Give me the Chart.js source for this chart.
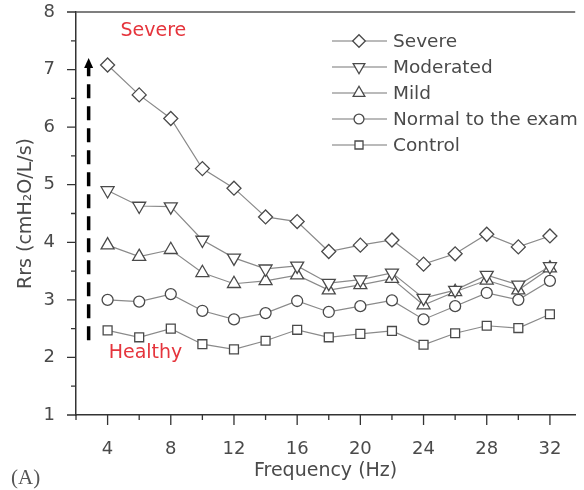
<!DOCTYPE html>
<html>
<head>
<meta charset="utf-8">
<script src="https://cdn.jsdelivr.net/npm/chart.js@4.4.1/dist/chart.umd.min.js"></script>
<style>
  html, body { margin: 0; padding: 0; background: #fff; overflow: hidden; }
  canvas { display: block; }
</style>
</head>
<body>
<canvas id="rrs-chart" width="584" height="490"></canvas>
<script>
// frequencies (Hz)
const frecuencias = [4, 6, 8, 10, 12, 14, 16, 18, 20, 22, 24, 26, 28, 30, 32];

// Rrs values (cmH2O/L/s)
const severe     = [7.08, 6.56, 6.15, 5.28, 4.94, 4.44, 4.36, 3.84, 3.95, 4.04, 3.62, 3.80, 4.14, 3.92, 4.11];
const moderated  = [4.90, 4.63, 4.62, 4.04, 3.73, 3.54, 3.59, 3.29, 3.35, 3.47, 3.03, 3.17, 3.43, 3.26, 3.58];
const mild       = [3.95, 3.75, 3.87, 3.47, 3.28, 3.33, 3.43, 3.17, 3.26, 3.37, 2.91, 3.14, 3.34, 3.17, 3.55];
const normal     = [3.00, 2.97, 3.10, 2.81, 2.66, 2.77, 2.98, 2.79, 2.89, 2.99, 2.66, 2.89, 3.12, 3.00, 3.33];
const control    = [2.47, 2.35, 2.50, 2.23, 2.14, 2.29, 2.48, 2.35, 2.41, 2.46, 2.22, 2.42, 2.55, 2.51, 2.75];

const etiquetas = ['Severe', 'Moderated', 'Mild', 'Normal to the exam', 'Control'];
const xTicks = [4, 8, 12, 16, 20, 24, 28, 32];
const yTicks = [1, 2, 3, 4, 5, 6, 7, 8];

const FONT = 'DejaVu Sans';
const TXT = '#4a4a4a';

function serie(label, values, style, radius, rotation) {
  return {
    label,
    data: frecuencias.map((f, i) => ({ x: f, y: values[i] })),
    borderColor: '#8a8a8a',
    borderWidth: 1.2,
    pointStyle: style,
    pointRadius: radius,
    pointRotation: rotation || 0,
    pointBorderColor: '#4a4a4a',
    pointBackgroundColor: '#fff',
    pointBorderWidth: 1.3,
    tension: 0
  };
}

const datasets = [
  serie(etiquetas[0], severe, 'rectRot', 7),
  serie(etiquetas[1], moderated, 'triangle', 7.5, 180),
  serie(etiquetas[2], mild, 'triangle', 7.5),
  serie(etiquetas[3], normal, 'circle', 5.5),
  serie(etiquetas[4], control, 'rect', 6.3)
];

// extra drawing: ticks, frame, legend, annotations
const extras = {
  id: 'extras',
  afterDraw(chart) {
    const ctx = chart.ctx;
    const xs = chart.scales.x, ys = chart.scales.y;
    const area = chart.chartArea;
    ctx.save();

    // top frame line
    ctx.strokeStyle = '#555';
    ctx.lineWidth = 1.5;
    ctx.beginPath();
    ctx.moveTo(area.left, area.top);
    ctx.lineTo(area.right, area.top);
    ctx.stroke();

    // tick marks
    ctx.strokeStyle = '#333';
    ctx.lineWidth = 1.3;
    ctx.beginPath();
    for (let v = 1; v <= 8; v += 0.5) {
      const py = ys.getPixelForValue(v);
      const len = Number.isInteger(v) ? 9 : 5;
      ctx.moveTo(area.left - len, py);
      ctx.lineTo(area.left, py);
    }
    for (let v = 2; v <= 32; v += 2) {
      const px = xs.getPixelForValue(v);
      const len = v % 4 === 0 ? 10 : 5;
      ctx.moveTo(px, area.bottom);
      ctx.lineTo(px, area.bottom + len);
    }
    ctx.stroke();

    // legend inside the plot
    const lx0 = 332, lx1 = 387, lm = 359, ltx = 393;
    chart.data.datasets.forEach((ds, i) => {
      const y = 41 + i * 26;
      ctx.strokeStyle = '#777';
      ctx.lineWidth = 1.2;
      ctx.setLineDash([]);
      ctx.beginPath();
      ctx.moveTo(lx0, y);
      ctx.lineTo(lx1, y);
      ctx.stroke();
      ctx.strokeStyle = ds.pointBorderColor;
      ctx.fillStyle = '#fff';
      ctx.lineWidth = 1.3;
      Chart.helpers.drawPoint(ctx, {
        pointStyle: ds.pointStyle,
        rotation: ds.pointRotation,
        radius: ds.pointRadius * 0.9,
        borderWidth: 1.3
      }, lm, y);
      ctx.fillStyle = TXT;
      ctx.font = '18.5px "' + FONT + '"';
      ctx.textAlign = 'left';
      ctx.textBaseline = 'middle';
      ctx.fillText(ds.label, ltx, y + 1);
    });

    // dashed arrow from Healthy up to Severe
    const ax = xs.getPixelForValue(2.8);
    const yb = ys.getPixelForValue(2.3);
    const yt = ys.getPixelForValue(7.2);
    ctx.strokeStyle = '#000';
    ctx.lineWidth = 3.5;
    ctx.setLineDash([14, 8]);
    ctx.beginPath();
    ctx.moveTo(ax, yb);
    ctx.lineTo(ax, yt + 9);
    ctx.stroke();
    ctx.setLineDash([]);
    ctx.fillStyle = '#000';
    ctx.beginPath();
    ctx.moveTo(ax, yt);
    ctx.lineTo(ax - 4.5, yt + 10);
    ctx.lineTo(ax + 4.5, yt + 10);
    ctx.closePath();
    ctx.fill();

    // red annotations
    ctx.fillStyle = '#e5343c';
    ctx.font = '19px "' + FONT + '"';
    ctx.textAlign = 'center';
    ctx.textBaseline = 'middle';
    ctx.fillText('Severe', xs.getPixelForValue(6.9), ys.getPixelForValue(7.67));
    ctx.fillText('Healthy', xs.getPixelForValue(6.4), ys.getPixelForValue(2.08));

    // panel letter
    ctx.fillStyle = '#555';
    ctx.font = '21px "Liberation Serif"';
    ctx.textAlign = 'left';
    ctx.fillText('(A)', 11, 478);

    ctx.restore();
  }
};

new Chart(document.getElementById('rrs-chart').getContext('2d'), {
  type: 'line',
  data: { datasets },
  options: {
    responsive: false,
    animation: false,
    layout: { padding: { top: 12, right: 0, left: 0, bottom: 0 } },
    plugins: { legend: { display: false }, tooltip: { enabled: false } },
    scales: {
      x: {
        type: 'linear',
        min: 2,
        max: 33.6,
        grid: { display: false },
        border: { color: '#333', width: 1.5 },
        afterBuildTicks: s => { s.ticks = xTicks.map(v => ({ value: v })); },
        ticks: { autoSkip: false, maxRotation: 0, padding: 16, color: TXT, font: { family: FONT, size: 18 } },
        title: { display: true, text: 'Frequency (Hz)', color: TXT, font: { family: FONT, size: 19 }, padding: { top: 0, bottom: 8 } },
        afterFit: s => { s.height = 75; s.paddingLeft = 0; s.paddingRight = 0; }
      },
      y: {
        min: 1,
        max: 8,
        grid: { display: false },
        border: { color: '#333', width: 1.5 },
        afterBuildTicks: s => { s.ticks = yTicks.map(v => ({ value: v })); },
        ticks: { padding: 13, color: TXT, font: { family: FONT, size: 18 } },
        title: { display: true, text: 'Rrs (cmH₂O/L/s)', color: TXT, font: { family: FONT, size: 19 }, padding: { top: 15, bottom: 0 } },
        afterFit: s => { s.width = 76; s.paddingTop = 0; s.paddingBottom = 0; }
      }
    }
  },
  plugins: [extras]
});
</script>
</body>
</html>
